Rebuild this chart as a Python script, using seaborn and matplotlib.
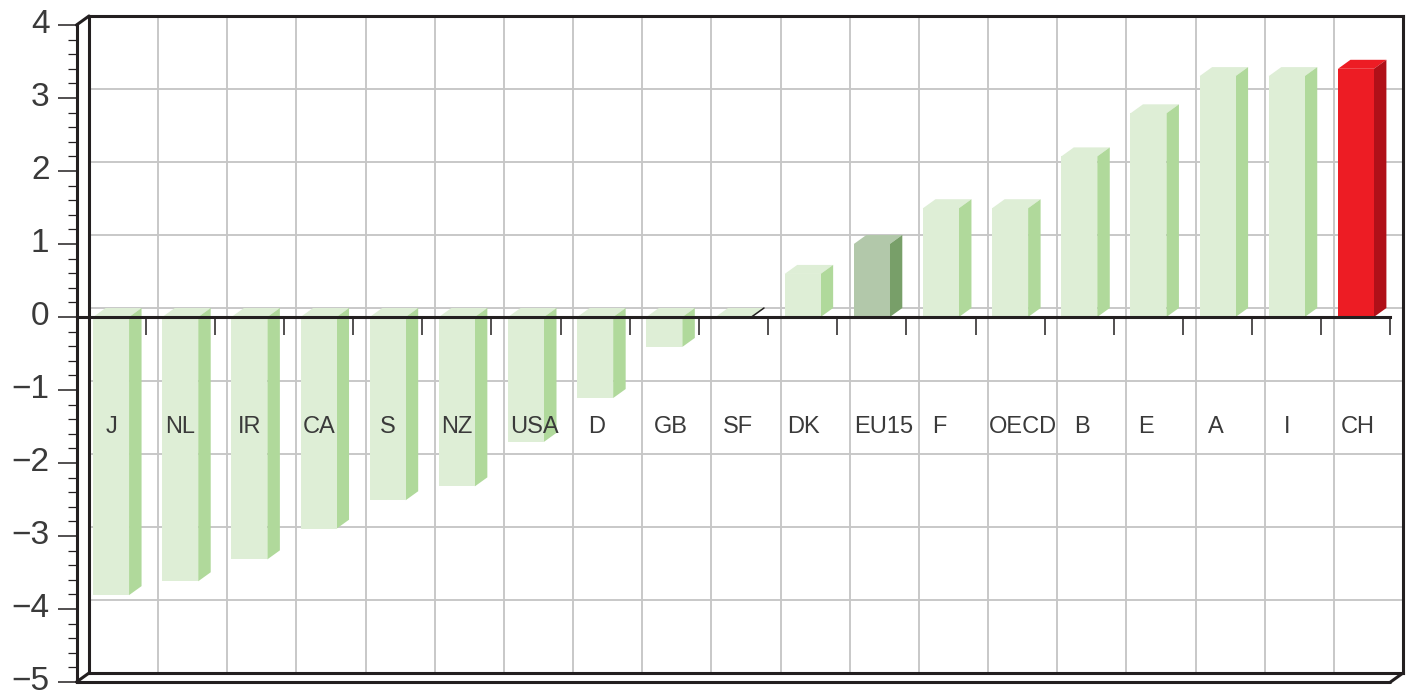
import matplotlib
matplotlib.use("Agg")
import matplotlib.pyplot as plt
from matplotlib.transforms import ScaledTranslation
import numpy as np
import pandas as pd
import seaborn as sns

countries = ["J", "NL", "IR", "CA", "S", "NZ", "USA", "D", "GB", "SF", "DK",
             "EU15", "F", "OECD", "B", "E", "A", "I", "CH"]
values = [-3.81, -3.62, -3.32, -2.90, -2.51, -2.32, -1.71, -1.11, -0.41, -0.02,
          0.59, 1.00, 1.49, 1.49, 2.20, 2.79, 3.30, 3.30, 3.40]
label_shift = [0.01, 0.0, 0.0, 0.01, 0.0, 0.0, 0.115, 0.02, 0.09, 0.07, 0.01,
               0.17, -0.03, 0.18, 0.04, -0.03, -0.03, 0.0, 0.03]

W, H = 1410, 691
L, R, T, B = 76.5, 1390.5, 25, 682
DX_PX, DY_PX = 12.5, 9
INK = "#231f20"
TXT = "#3a3a3a"
GRID = "#c6c6c6"

face = {c: "#deeed6" for c in countries}
side = {c: "#b0d99b" for c in countries}
face["EU15"], side["EU15"] = "#b2c8aa", "#789f69"
face["CH"], side["CH"] = "#ed1c24", "#b01018"

sns.set_theme(style="white")
plt.rcParams["font.family"] = ["Liberation Sans", "DejaVu Sans"]

fig = plt.figure(figsize=(W / 100, H / 100), dpi=100, facecolor="white")

def box(x0, x1, top, bottom):
    return [x0 / W, 1 - bottom / H, (x1 - x0) / W, (bottom - top) / H]

# back wall with the grid
back = fig.add_axes(box(L + DX_PX, R + DX_PX, T - DY_PX, B - DY_PX), zorder=1)
back.set_xlim(-0.5, 18.5)
back.set_ylim(-5, 4)
back.set_xticks(np.arange(0.5, 18.5))
back.set_yticks(np.arange(-4, 4))
back.grid(True, color=GRID, lw=1.35)
back.tick_params(left=False, bottom=False, labelleft=False, labelbottom=False)
for s in back.spines.values():
    s.set_color(INK)
    s.set_linewidth(2.2)

# front plane with bars
ax = fig.add_axes(box(L, R, T, B), zorder=2)
ax.patch.set_visible(False)
df = pd.DataFrame({"country": countries, "value": values})
sns.barplot(data=df, x="country", y="value", hue="country", palette=face, dodge=False,
            saturation=1, width=0.52, legend=False, ax=ax, zorder=3, linewidth=0)
ax.set_xlim(-0.5, 18.5)
ax.set_ylim(-5, 4)
ax.set_xlabel("")
ax.set_ylabel("")

dx = DX_PX / ((R - L) / 19)
dy = DY_PX / ((B - T) / 9)

for patch, c in zip(ax.patches, countries):
    x0, x1 = patch.get_x(), patch.get_x() + patch.get_width()
    y0, y1 = patch.get_y(), patch.get_y() + patch.get_height()
    top, bot = max(y0, y1), min(y0, y1)
    ax.fill([x0, x0 + dx, x1 + dx, x1], [top, top + dy, top + dy, top],
            color=face[c], lw=0, zorder=2.9)
    if c == "SF":
        ax.plot([x1, x1 + dx], [0, dy], color=INK, lw=1.1, zorder=2.95)
    else:
        ax.fill([x1, x1 + dx, x1 + dx, x1], [top, top + dy, bot + dy, bot],
                color=side[c], lw=0, zorder=2.9)

ax.spines["top"].set_visible(False)
ax.spines["right"].set_visible(False)
ax.spines["bottom"].set_position(("data", 0))
for k in ("left", "bottom"):
    ax.spines[k].set_color(INK)
    ax.spines[k].set_linewidth(2.2)
    ax.spines[k].set_zorder(5)
ax.set_xticks(np.arange(0.5, 19))
ax.set_xticklabels([])
ax.tick_params(axis="x", direction="out", length=13, width=1.1, color=INK, bottom=True, pad=0)
ax.set_yticks(np.arange(-5, 5))
ax.set_yticks(np.arange(-5, 4.01, 0.2), minor=True)
ax.set_yticklabels([str(v).replace("-", "\u2212") for v in range(-5, 5)])
ax.tick_params(axis="y", which="major", direction="out", left=True, length=13.5, width=1.1,
               color=INK, labelsize=24, labelcolor=TXT, pad=6)
ax.tick_params(axis="y", which="minor", direction="out", left=True, length=6.5, width=0.9, color=INK)
lift = ScaledTranslation(0, 3 / 72, fig.dpi_scale_trans)
for t in ax.get_yticklabels():
    t.set_transform(t.get_transform() + lift)

# front floor edge and depth connectors
frame = dict(color=INK, lw=2.2, clip_on=False, zorder=6, solid_capstyle="round")
ax.plot([-0.5, 18.5], [-5, -5], **frame)
ax.plot([-0.5, -0.5 + dx], [-5, -5 + dy], **frame)
ax.plot([18.5, 18.5 + dx], [-5, -5 + dy], **frame)
ax.plot([-0.5, -0.5 + dx], [4, 4 + dy], **frame)

for i, (c, s) in enumerate(zip(countries, label_shift)):
    ax.text(i + s, -1.50, c, ha="center", va="center", fontsize=17, color=TXT, zorder=7)

fig.savefig("out.png", dpi=100)
